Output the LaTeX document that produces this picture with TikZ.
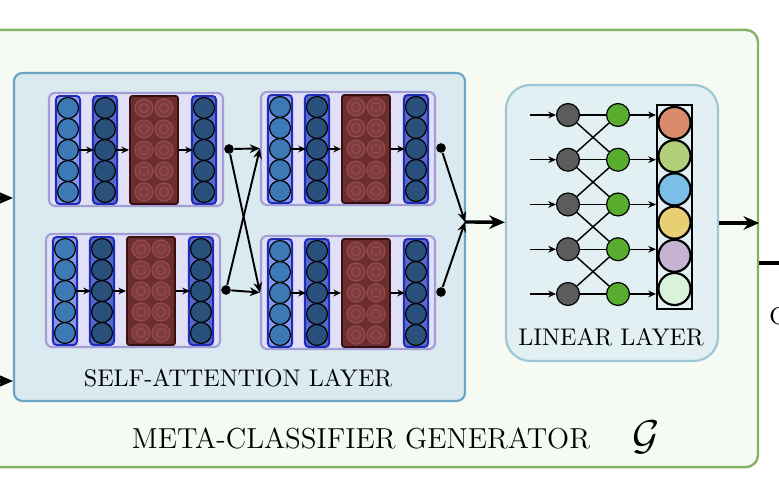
\documentclass[tikz,border=0pt]{standalone}
\usepackage{amssymb}
\usepackage{amsmath}
\usetikzlibrary{shapes,backgrounds,calc,arrows.meta,positioning}

\definecolor{outerfill}{HTML}{F5FBF2}
\definecolor{outerline}{HTML}{82B366}
\definecolor{safill}{HTML}{DAEAF0}
\definecolor{saline}{HTML}{6CA5C4}
\definecolor{linfill}{HTML}{E2F0F3}
\definecolor{linline}{HTML}{9BC7D6}
\definecolor{blockfill}{HTML}{E1E0F6}
\definecolor{blockline}{HTML}{A49ED6}
\definecolor{colline}{HTML}{1E2DB8}
\definecolor{colfillA}{HTML}{8596EC}
\definecolor{colfillB}{HTML}{5868C8}
\definecolor{unitA}{HTML}{3D79B4}
\definecolor{unitB}{HTML}{29507B}
\definecolor{attfill}{HTML}{6B2E2E}
\definecolor{attline}{HTML}{3A0F0F}
\definecolor{ringfill}{HTML}{7F3C3C}
\definecolor{ringline}{HTML}{944A4A}
\definecolor{grayunit}{HTML}{5C5C5C}
\definecolor{greenunit}{HTML}{58AC2E}
\definecolor{outA}{HTML}{D98B6C}
\definecolor{outB}{HTML}{B2CF79}
\definecolor{outC}{HTML}{7BBFE9}
\definecolor{outD}{HTML}{E9CF74}
\definecolor{outE}{HTML}{C5B3D1}
\definecolor{outF}{HTML}{D9F3DB}

\tikzset{
	outerbox/.style={draw=outerline, fill=outerfill, line width=1pt, rounded corners=5pt, minimum width=323.7pt, minimum height=181.4pt},
	sabox/.style={draw=saline, fill=safill, line width=0.9pt, rounded corners=3.5pt, minimum width=187.2pt, minimum height=136.1pt},
	linbox/.style={draw=linline, fill=linfill, line width=0.9pt, rounded corners=10pt, minimum width=88pt, minimum height=114.5pt},
	blockbox/.style={draw=blockline, fill=blockfill, line width=0.9pt, rounded corners=2.5pt, minimum width=72.2pt, minimum height=46.9pt},
	colbox/.style={draw=colline, line width=0.8pt, rounded corners=1.5pt, minimum width=10pt, minimum height=44.8pt},
	attbox/.style={draw=attline, fill=attfill, line width=0.8pt, rounded corners=1pt, minimum width=19.9pt, minimum height=44.8pt},
	unit/.style={circle, draw=black, line width=0.5pt, inner sep=0pt, minimum size=8.7pt},
	lunit/.style={circle, draw=black, line width=0.5pt, inner sep=0pt, minimum size=9.5pt},
	outunit/.style={circle, draw=black, line width=0.9pt, inner sep=0pt, minimum size=13.3pt},
	outcol/.style={draw=black, line width=0.9pt, minimum width=14.5pt, minimum height=84.7pt},
	dotnode/.style={circle, fill=black, inner sep=0pt, minimum size=4pt},
	thin arrow/.style={-{Stealth[length=3.2pt,width=2.8pt]}, line width=0.6pt},
	cross arrow/.style={-{Stealth[length=4.2pt,width=3.6pt]}, line width=0.8pt},
	big arrow/.style={-{Stealth[length=6.5pt,width=5.6pt]}, line width=1.4pt}
}

\begin{document}
\begin{tikzpicture}[x=0.415pt,y=0.415pt]
	\useasboundingbox (0,0) rectangle (779,-495);

	% outer frame
	\node[outerbox] (outer) at (368,-248.5) {};
	\node (outertext) at (361,-438) {\large META-CLASSIFIER GENERATOR};
	\node (gsym) at (646,-437) {\LARGE$\mathcal{G}$};

	% self-attention layer
	\node[sabox] (sa) at (239.5,-237) {};
	\node (satext) at (238,-378) {SELF-ATTENTION LAYER};

	\foreach \blk/\bx/\by in {tl/49/93, bl/46/234, tr/261/92, br/261/236} {
		\node[blockbox] (\blk) at ({\bx+87},{-\by-56.5}) {};
		\node[colbox, fill=colfillA] (\blk-ca) at ({\bx+19},{-\by-57}) {};
		\node[colbox, fill=colfillB] (\blk-cb) at ({\bx+56},{-\by-57}) {};
		\node[attbox] (\blk-r) at ({\bx+105},{-\by-57}) {};
		\node[colbox, fill=colfillB] (\blk-cc) at ({\bx+155},{-\by-57}) {};
		\foreach \i in {1,...,5} {
			\node[unit, fill=unitA] (\blk-a-\i) at ({\bx+19},{-\by-15-21*(\i-1)}) {};
			\node[unit, fill=unitB] (\blk-b-\i) at ({\bx+56},{-\by-15-21*(\i-1)}) {};
			\node[unit, fill=unitB] (\blk-c-\i) at ({\bx+155},{-\by-15-21*(\i-1)}) {};
			\foreach \rx in {95,115} {
				\draw[draw=ringline, fill=ringfill, line width=0.5pt] ({\bx+\rx},{-\by-15-21*(\i-1)}) circle (9);
				\draw[draw=ringline, line width=0.5pt] ({\bx+\rx},{-\by-15-21*(\i-1)}) circle (4.5);
			}
		}
		\draw[thin arrow] (\blk-a-3) -- (\blk-b-3);
		\draw[thin arrow] (\blk-b-3) -- (\blk-r);
		\draw[thin arrow] (\blk-r) -- (\blk-c-3);
		\node[dotnode] (\blk-dot) at ({\bx+180},{-\by-56}) {};
	}

	% mixing between the two stages
	\draw[cross arrow] (tl-dot) -- (tr.west);
	\draw[cross arrow] (tl-dot) -- (br.west);
	\draw[cross arrow] (bl-dot) -- (br.west);
	\draw[cross arrow] (bl-dot) -- (tr.west);

	\coordinate (merge) at (465,-222);
	\draw[cross arrow] (tr-dot) -- (merge);
	\draw[cross arrow] (br-dot) -- (merge);

	% inputs from the left
	\coordinate (in1) at (-4,-198);
	\coordinate (in2) at (-4,-381);
	\draw[big arrow] (in1) -- (in1 -| sa.west);
	\draw[big arrow] (in2) -- (in2 -| sa.west);

	% linear layer
	\node[linbox] (lin) at (612,-223) {};
	\node (lintext) at (611,-337) {LINEAR LAYER};
	\draw[big arrow] (merge) -- (lin);

	\node[outcol] (out) at (674.5,-207) {};
	\foreach \c [count=\i] in {outA,outB,outC,outD,outE,outF} {
		\node[outunit, fill=\c] (o\i) at (674.5,{-123-33.2*(\i-1)}) {};
	}

	\foreach \i in {1,...,5} {
		\node[lunit, fill=grayunit] (g\i) at (568,{-115-44.75*(\i-1)}) {};
		\node[lunit, fill=greenunit] (n\i) at (618,{-115-44.75*(\i-1)}) {};
		\coordinate (x\i) at (530,{-115-44.75*(\i-1)});
		\draw[thin arrow] (x\i) -- (g\i);
		\draw[thin arrow] (n\i) -- (n\i -| out.west);
		\draw[line width=0.6pt] (g\i) -- (n\i);
	}
	\foreach \i/\j in {1/2,2/3,3/4,4/5} {
		\draw[line width=0.6pt] (g\i) -- (n\j);
		\draw[line width=0.6pt] (g\j) -- (n\i);
	}

	% output
	\draw[big arrow] (lin) -- (lin -| outer.east);
	\coordinate (rout) at (790,-263);
	\draw[line width=1.4pt] (outer.east |- rout) -- (rout);
	\node[anchor=west, inner sep=0pt] (next) at (769,-316) {C};
\end{tikzpicture}
\end{document}
